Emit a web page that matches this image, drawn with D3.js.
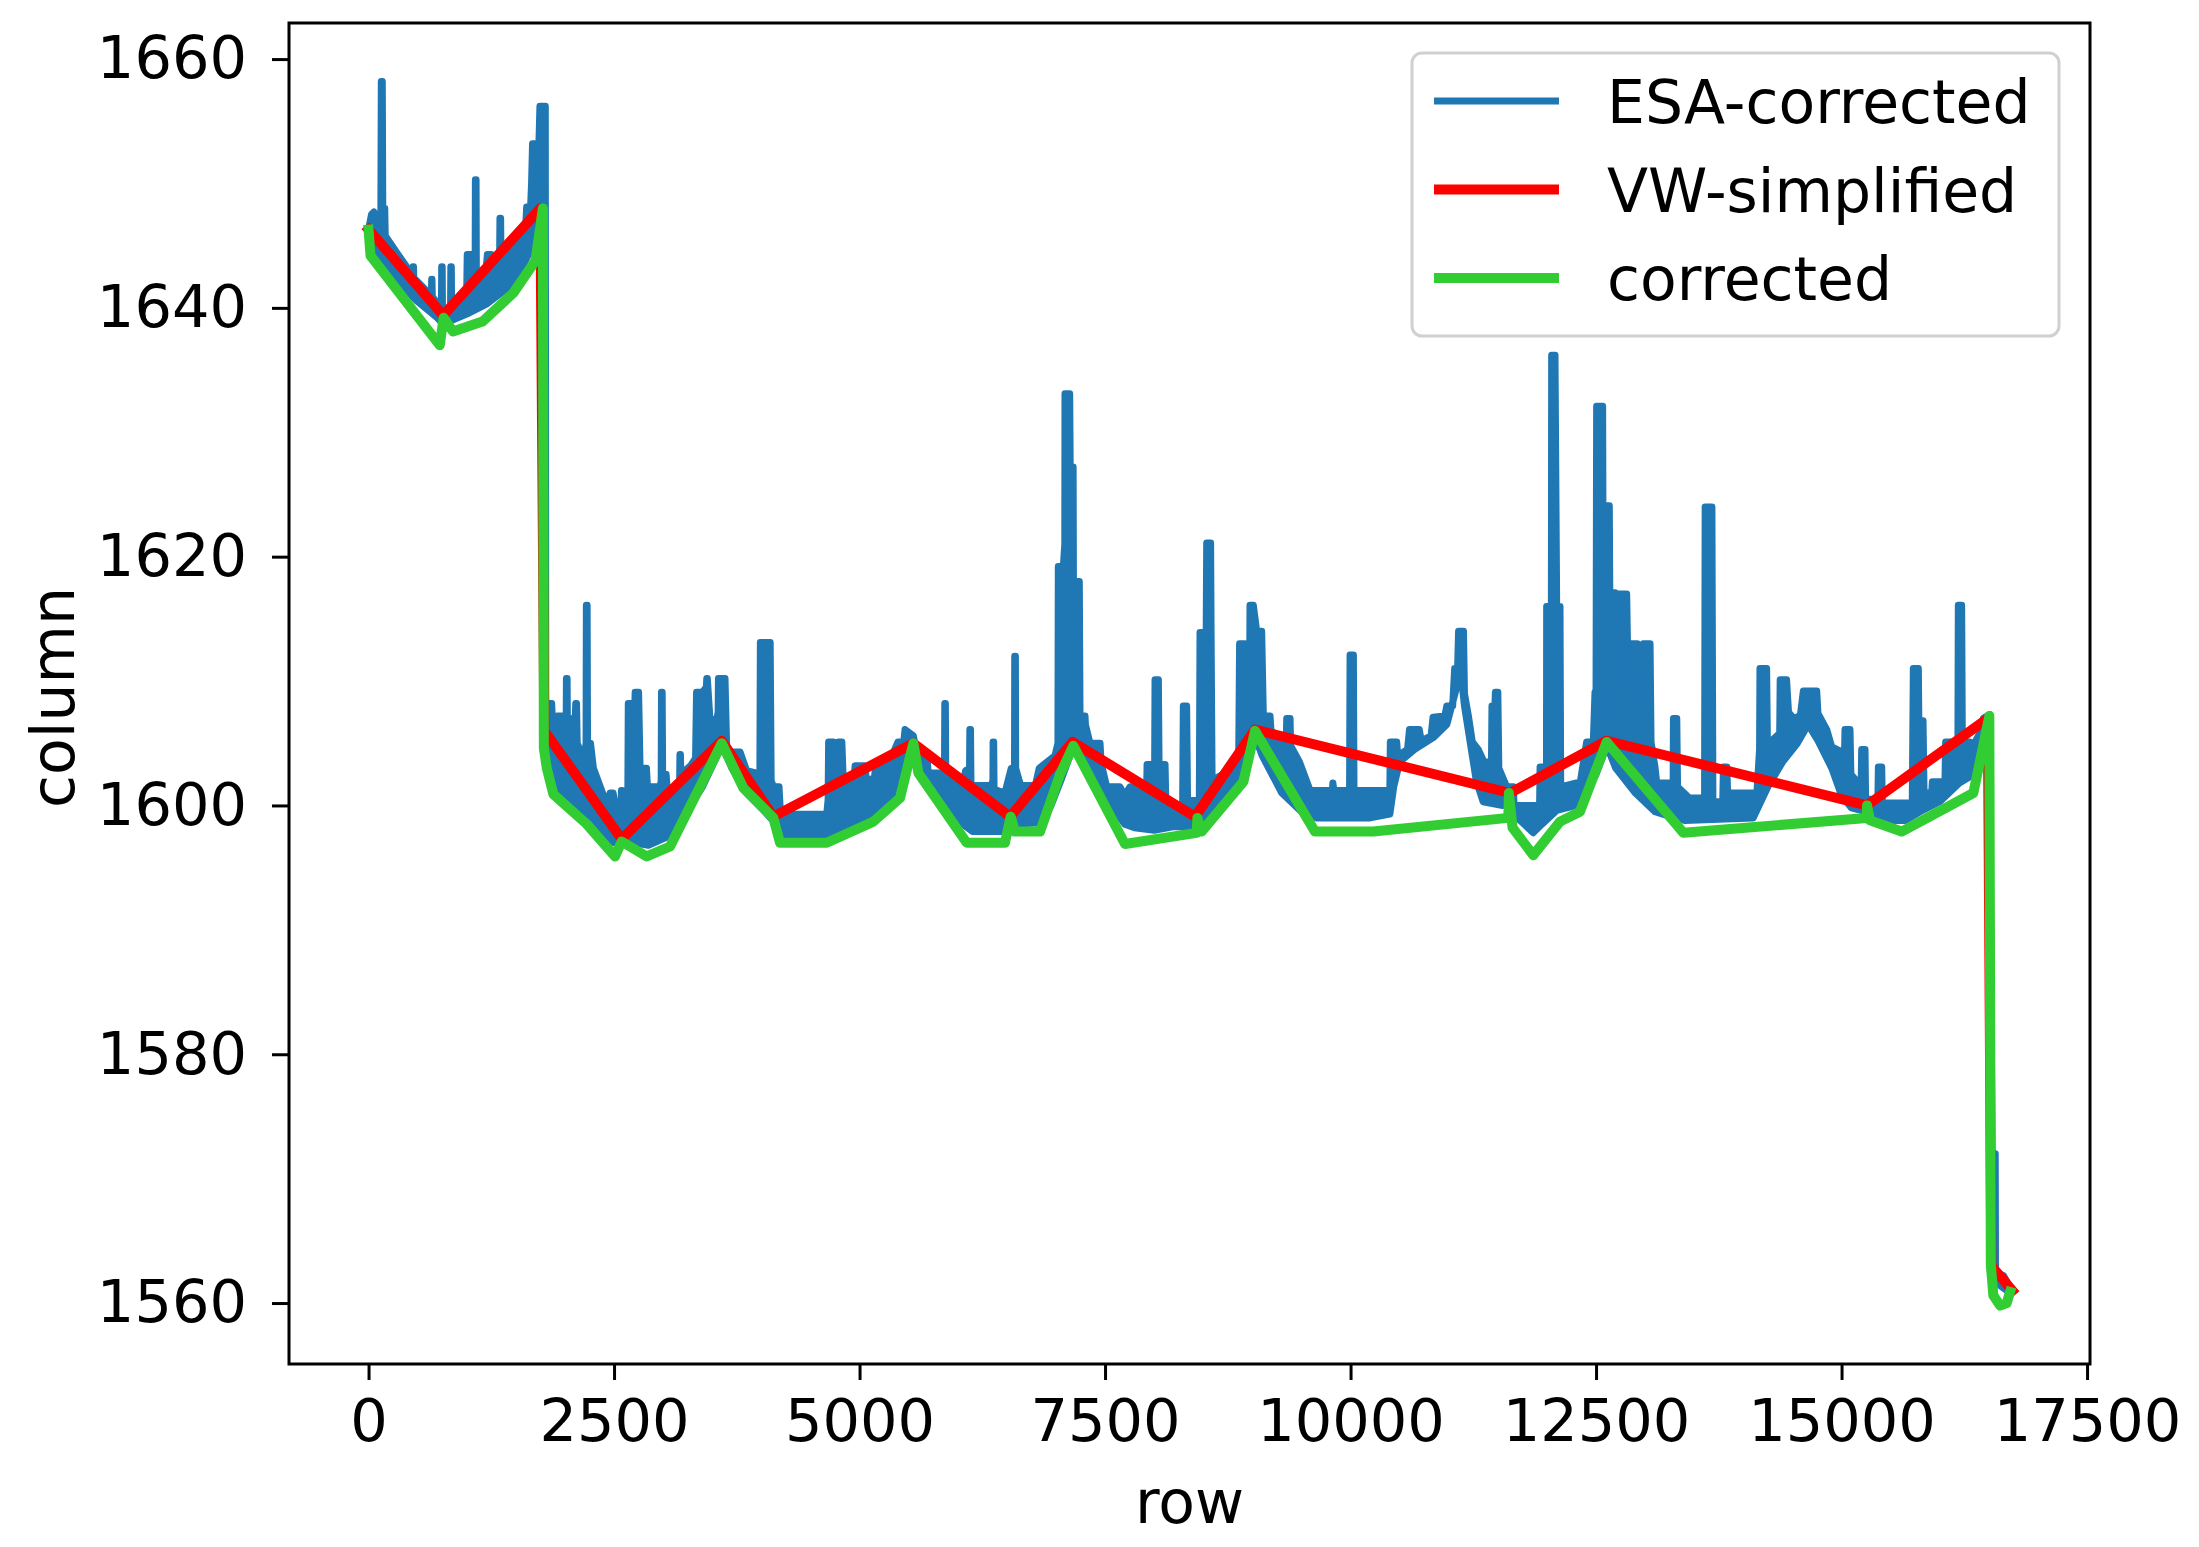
<!DOCTYPE html>
<html><head><meta charset="utf-8">
<script src="https://cdn.jsdelivr.net/npm/d3@7"></script>
<style>body{margin:0;background:#fff}</style>
</head><body>
<svg id="chart" width="2199" height="1547"></svg>
<script>
// ---------- data ----------
const xTicks = [0, 2500, 5000, 7500, 10000, 12500, 15000, 17500];
const yTicks = [1560, 1580, 1600, 1620, 1640, 1660];
const seriesNames = ["ESA-corrected", "VW-simplified", "corrected"];
const seriesColors = ["#1f77b4", "#ff0000", "#32cd32"];
const xLabel = "row";
const yLabel = "column";

// ESA-corrected: upper outline (with spikes) of the dense noisy trace, [row, column]
const esaUpper = [
[0,1646.3],[30,1647.5],[55,1647.7],[70,1646.5],
[125,1646.5],[130,1658.2],[140,1658.2],[145,1648.0],[165,1648.0],[170,1645.8],
[300,1644.3],
[450,1642.6],[453,1643.3],[458,1643.3],[461,1642.4],
[600,1641.3],
[640,1641.0],[643,1642.3],[646,1642.3],[649,1640.9],
[700,1640.4],
[742,1640.0],[745,1643.3],[750,1643.3],[753,1639.9],
[790,1639.8],
[835,1640.2],[838,1643.3],[843,1643.3],[846,1640.2],
[950,1641.0],
[1000,1641.5],[1005,1644.3],[1050,1644.3],[1060,1642.0],
[1085,1642.0],[1088,1650.3],[1095,1650.3],[1098,1642.5],
[1200,1643.3],[1210,1644.3],[1250,1644.3],[1260,1643.8],
[1335,1644.3],[1338,1647.2],[1345,1647.2],[1348,1644.6],
[1430,1644.8],[1435,1645.3],[1520,1645.3],
[1600,1646.5],[1610,1648.1],[1650,1648.1],[1660,1650.0],[1670,1653.2],[1735,1653.2],[1745,1656.2],[1800,1656.2],
[1805,1606.0],[1815,1608.2],[1865,1608.2],[1875,1606.0],[1915,1606.2],[1920,1607.2],[1970,1607.2],[1990,1606.0],
[2012,1606.0],[2015,1610.2],[2022,1610.2],[2025,1606.5],[2080,1607.0],[2100,1606.0],
[2110,1608.2],[2118,1608.2],[2125,1605.0],[2170,1604.1],[2200,1604.1],
[2215,1605.0],[2218,1616.1],[2226,1616.1],[2230,1605.0],[2260,1605.0],[2290,1603.0],[2430,1600.0],[2460,1601.0],[2490,1601.0],[2540,1599.0],
[2572,1599.0],[2575,1601.2],[2582,1601.2],[2590,1599.5],
[2640,1600.5],[2645,1608.2],[2712,1608.2],[2715,1609.1],[2750,1609.1],[2765,1603.0],[2830,1603.0],[2840,1601.5],[2970,1601.5],
[2980,1602.0],[2983,1609.1],[2990,1609.1],[2995,1602.5],[3030,1602.5],[3040,1601.5],[3130,1601.3],
[3168,1602.0],[3171,1604.1],[3176,1604.1],[3180,1602.5],[3280,1603.2],
[3330,1603.8],[3340,1609.1],[3400,1609.1],[3440,1609.5],[3444,1610.2],[3450,1610.2],[3477,1606.9],[3545,1606.9],
[3560,1607.5],[3563,1610.2],[3630,1610.2],[3648,1604.3],[3783,1604.3],[3850,1602.8],[3953,1602.6],
[3985,1602.6],[3990,1613.1],[4090,1613.1],[4100,1602.0],[4123,1601.5],[4180,1601.5],[4195,1599.3],[4666,1599.3],
[4680,1600.5],[4685,1605.1],[4733,1605.1],[4745,1604.0],[4780,1604.0],[4785,1605.1],[4820,1605.1],[4836,1601.6],[4938,1601.6],
[4955,1603.2],[5055,1603.2],[5070,1602.0],[5150,1602.2],[5170,1603.4],[5300,1603.4],[5390,1605.1],[5450,1605.1],[5463,1606.1],[5548,1605.6],
[5582,1604.2],[5685,1604.0],[5700,1602.6],[5850,1602.6],
[5865,1603.0],[5868,1608.2],[5874,1608.2],[5878,1602.5],[5950,1601.7],[6050,1601.7],[6080,1602.8],
[6120,1603.0],[6123,1606.1],[6130,1606.1],[6135,1601.6],[6340,1601.6],
[6358,1602.0],[6360,1605.1],[6366,1605.1],[6370,1601.3],[6480,1601.0],[6545,1603.0],
[6578,1603.0],[6580,1612.0],[6587,1612.0],[6590,1603.0],[6640,1601.6],[6790,1601.6],
[6830,1603.0],[6990,1604.0],
[7020,1605.0],[7024,1619.2],[7075,1619.2],[7090,1621.0],[7092,1633.1],[7140,1633.1],[7145,1627.2],[7175,1627.2],[7178,1618.0],[7238,1618.0],[7245,1607.2],[7296,1607.2],[7300,1606.5],[7347,1605.0],[7449,1605.0],[7460,1603.4],[7517,1601.5],[7652,1601.5],[7700,1600.8],[7754,1601.5],[7924,1601.5],
[7928,1603.3],[7975,1603.3],[8005,1603.3],[8009,1610.1],[8043,1610.1],[8050,1603.3],[8111,1603.3],[8120,1600.0],[8290,1600.0],
[8297,1608.0],[8331,1608.0],[8340,1600.4],[8460,1600.4],
[8467,1613.9],[8530,1613.9],[8535,1621.1],[8575,1621.1],[8580,1613.9],[8590,1602.0],[8700,1602.5],[8860,1603.0],
[8870,1613.0],[8925,1613.0],[8935,1606.0],[8970,1607.0],[8976,1616.1],[9010,1616.1],[9044,1614.0],[9095,1614.0],[9112,1607.2],[9180,1607.2],[9190,1606.0],[9300,1605.3],
[9345,1605.0],[9350,1607.0],[9384,1607.0],[9390,1604.8],[9480,1603.5],[9588,1601.2],
[9815,1601.2],[9820,1601.8],[9830,1601.2],[9990,1601.2],[9995,1612.1],[10029,1612.1],[10035,1601.2],[10400,1601.2],
[10405,1605.1],[10470,1605.1],[10480,1604.0],[10580,1604.5],[10600,1606.1],[10700,1606.1],[10720,1605.2],[10820,1605.6],[10840,1607.1],[10960,1607.2],[10980,1608.0],[11040,1608.0],[11060,1611.0],[11090,1611.0],[11100,1614.0],[11150,1614.0],[11160,1609.0],[11200,1607.2],[11240,1605.1],[11300,1604.5],[11360,1603.5],[11435,1603.5],[11440,1608.0],[11470,1608.0],[11475,1609.1],[11500,1609.1],[11510,1603.0],[11590,1601.5],[11658,1601.5],[11665,1600.0],[11925,1600.0],
[11930,1603.1],[11963,1603.1],[11970,1601.0],[11995,1601.0],[11997,1616.0],[12045,1616.0],[12048,1636.2],[12082,1636.2],[12099,1616.0],[12133,1616.0],[12140,1601.5],[12340,1601.9],
[12404,1605.1],[12472,1605.1],[12489,1609.1],[12500,1609.1],[12506,1632.1],[12567,1632.1],[12570,1624.1],[12635,1624.1],[12640,1617.1],[12693,1617.1],[12700,1607.2],[12708,1607.2],[12710,1617.0],[12812,1617.0],[12820,1613.0],[12920,1613.0],[12925,1608.5],[12975,1608.5],[12982,1613.0],[13050,1613.0],[13060,1605.1],[13100,1603.1],[13118,1601.8],[13220,1601.8],
[13285,1601.8],[13288,1607.0],[13322,1607.0],[13330,1601.5],[13450,1600.6],[13605,1600.6],
[13611,1624.0],[13680,1624.0],[13690,1600.3],[13790,1600.3],[13797,1603.1],[13832,1603.1],[13840,1601.0],[14138,1601.0],
[14165,1604.5],[14169,1611.0],[14237,1611.0],[14245,1605.0],[14300,1605.3],[14370,1605.8],[14375,1610.1],[14440,1610.1],[14460,1607.5],[14510,1607.0],[14580,1607.2],[14611,1609.2],[14747,1609.2],[14760,1607.4],[14849,1606.1],[14900,1604.7],[15030,1604.2],[15035,1606.1],[15086,1606.1],[15095,1602.5],[15150,1602.0],[15200,1601.9],[15205,1604.5],[15239,1604.5],[15245,1600.5],[15370,1600.5],[15375,1603.1],[15409,1603.1],[15415,1600.2],[15720,1600.2],
[15731,1611.0],[15782,1611.0],[15787,1606.8],[15830,1606.8],[15840,1601.0],[15918,1601.0],[15925,1601.9],[16053,1601.9],[16060,1605.1],[16185,1605.1],[16189,1616.1],[16223,1616.1],[16230,1605.1],[16308,1605.1],[16320,1604.5],[16420,1606.0],[16444,1607.0],[16510,1607.3],
[16522,1563.2],[16550,1563.0],[16553,1572.0],[16565,1572.0],[16568,1562.5],[16650,1562.2],[16700,1561.5],[16720,1561.0]
];

// ESA-corrected: lower outline of the dense noisy trace, [row, column]
const esaLower = [
[0,1645.8],[60,1644.3],[300,1642.0],[500,1640.5],[700,1639.2],[760,1638.7],[850,1639.0],[1000,1639.5],[1200,1640.3],[1400,1641.5],[1550,1643.0],[1700,1645.5],[1790,1647.0],
[1795,1603.8],[1880,1601.5],[2000,1600.8],[2200,1599.2],[2400,1597.8],[2500,1597.0],[2580,1597.4],[2700,1597.0],[2850,1596.8],[3050,1597.5],[3200,1599.0],[3400,1601.5],[3550,1604.0],[3600,1604.8],[3700,1603.0],[3850,1601.0],[4000,1599.8],[4150,1598.5],[4250,1597.6],[4650,1597.6],[4900,1598.3],[5100,1599.2],[5350,1600.8],[5480,1602.8],[5550,1604.6],[5620,1603.2],[5800,1600.5],[6000,1598.8],[6150,1597.9],[6480,1597.9],[6540,1599.3],[6600,1598.5],[6850,1598.6],[6950,1600.0],[7050,1602.0],[7170,1604.6],[7300,1603.0],[7500,1600.6],[7700,1598.5],[7800,1598.2],[8000,1598.0],[8200,1598.3],[8430,1598.2],[8600,1599.0],[8800,1601.3],[8950,1603.8],[9030,1605.5],[9100,1604.0],[9300,1601.0],[9500,1599.5],[9650,1599.0],[10200,1599.0],[10400,1599.3],
[10440,1601.5],[10500,1603.5],[10650,1604.5],[10850,1605.5],[10980,1606.5],[11080,1609.5],[11120,1611.0],[11160,1608.0],[11220,1605.0],[11280,1602.0],[11350,1600.3],[11550,1600.0],[11620,1600.3],[11700,1599.0],[11860,1597.8],[11950,1598.5],[12100,1599.6],[12300,1600.0],[12500,1602.5],[12610,1604.8],[12700,1603.0],[12900,1601.0],[13100,1599.5],[13300,1599.0],[13400,1598.8],[14100,1599.0],
[14250,1601.5],[14400,1603.5],[14550,1605.0],[14660,1606.5],[14760,1605.2],[14900,1603.0],[15000,1600.8],[15100,1599.8],[15250,1599.5],[15400,1598.8],[15650,1598.8],[15800,1599.5],[16000,1600.3],[16200,1601.8],[16350,1602.5],[16450,1605.0],[16505,1606.5],
[16515,1562.5],[16550,1561.8],[16650,1561.2],[16720,1560.8]
];

// VW-simplified polyline, [row, column]
const vwSimplified = [
[0,1646.3],[760,1639.4],[1750,1648.0],[1790,1606.0],[2578,1597.3],[3597,1605.2],[4122,1599.1],[5548,1605.0],[6533,1599.1],[7170,1605.1],[8417,1599.1],[9027,1606.1],[11624,1601.0],[12608,1605.2],[15256,1600.0],[16490,1607.0],[16525,1563.0],[16740,1561.0]
];

// corrected polyline, [row, column]
const corrected = [
[0,1646.3],[20,1644.2],[725,1637.0],[765,1639.2],[860,1638.1],[1160,1638.9],[1475,1641.2],[1700,1643.8],[1775,1648.0],
[1785,1604.6],[1815,1603.0],[1882,1600.9],[2222,1598.5],[2510,1595.9],[2578,1597.1],[2833,1595.9],[3070,1596.7],[3597,1605.0],[3817,1601.4],[4122,1599.0],[4190,1597.0],[4666,1597.0],[5141,1598.7],[5412,1600.6],[5548,1605.0],[5600,1602.6],[6091,1597.0],[6481,1597.0],[6539,1599.1],[6583,1597.9],[6838,1597.9],[7042,1602.5],[7177,1604.8],[7703,1596.9],[8433,1597.8],[8440,1599.0],[8484,1597.9],[8908,1601.9],[9027,1606.0],[9638,1597.9],[10232,1597.9],[11607,1599.0],[11612,1601.0],[11650,1598.2],[11861,1596.0],[12133,1598.7],[12336,1599.5],[12608,1605.1],[13389,1597.8],[15256,1599.0],[15260,1600.0],[15290,1598.8],[15612,1597.9],[16342,1601.0],[16505,1607.2],[16520,1563.1],[16546,1560.6],[16614,1559.8],[16682,1560.0],[16716,1560.9]
];

// ---------- drawing ----------
const FONT = "'DejaVu Sans', sans-serif";
const TICK_FS = "59px";
const LABEL_FS = "60px";
const plot = {left: 289, right: 2090, top: 23, bottom: 1364};
const svg = d3.select("#chart");
svg.append("rect").attr("width", 2199).attr("height", 1547).attr("fill", "#fff");

const x = d3.scaleLinear().domain([-810, 17530]).range([plot.left, plot.right]);
const y = d3.scaleLinear().domain([1555.1, 1662.9]).range([plot.bottom, plot.top]);

svg.append("clipPath").attr("id", "clip").append("rect")
  .attr("x", plot.left).attr("y", plot.top)
  .attr("width", plot.right - plot.left).attr("height", plot.bottom - plot.top);

const g = svg.append("g").attr("clip-path", "url(#clip)");
const line = d3.line().x(d => x(d[0])).y(d => y(d[1]));

// ESA-corrected dense trace
const esaOutline = esaUpper.concat(esaLower.slice().reverse());
g.append("path")
  .attr("d", d3.line().x(d => x(d[0])).y(d => y(d[1])).curve(d3.curveLinearClosed)(esaOutline))
  .attr("fill", seriesColors[0]).attr("stroke", seriesColors[0])
  .attr("stroke-width", 7).attr("stroke-linejoin", "round");

g.append("path").attr("d", line(vwSimplified))
  .attr("fill", "none").attr("stroke", seriesColors[1]).attr("stroke-width", 10)
  .attr("stroke-linejoin", "round").attr("stroke-linecap", "square");

g.append("path").attr("d", line(corrected))
  .attr("fill", "none").attr("stroke", seriesColors[2]).attr("stroke-width", 10)
  .attr("stroke-linejoin", "round").attr("stroke-linecap", "square");

// axes
const xAxis = svg.append("g").attr("transform", `translate(0,${plot.bottom})`)
  .call(d3.axisBottom(x).tickValues(xTicks).tickFormat(d3.format("d")).tickSize(16).tickPadding(19));
const yAxis = svg.append("g").attr("transform", `translate(${plot.left},0)`)
  .call(d3.axisLeft(y).tickValues(yTicks).tickFormat(d3.format("d")).tickSize(17).tickPadding(25));
[xAxis, yAxis].forEach(a => {
  a.select(".domain").remove();
  a.selectAll(".tick line").attr("stroke", "#000").attr("stroke-width", 3);
  a.selectAll(".tick text").attr("fill", "#000").style("font-family", FONT).style("font-size", TICK_FS);
});

// frame
svg.append("rect").attr("x", plot.left).attr("y", plot.top)
  .attr("width", plot.right - plot.left).attr("height", plot.bottom - plot.top)
  .attr("fill", "none").attr("stroke", "#000").attr("stroke-width", 3);

// axis labels
svg.append("text").text(xLabel).attr("x", (plot.left + plot.right) / 2).attr("y", 1523)
  .attr("text-anchor", "middle").style("font-family", FONT).style("font-size", LABEL_FS);
svg.append("text").text(yLabel)
  .attr("transform", `translate(74,${(plot.top + plot.bottom) / 2 + 4}) rotate(-90)`)
  .attr("text-anchor", "middle").style("font-family", FONT).style("font-size", LABEL_FS);

// legend
const lg = svg.append("g");
lg.append("rect").attr("x", 1412).attr("y", 53).attr("width", 647).attr("height", 283)
  .attr("rx", 10).attr("fill", "#fff").attr("fill-opacity", 0.8)
  .attr("stroke", "#d0d0d0").attr("stroke-width", 3);
const legendWidths = [7, 10, 10];
seriesNames.forEach((name, i) => {
  const ly = 101 + i * 88.5;
  lg.append("line").attr("x1", 1434).attr("x2", 1559).attr("y1", ly).attr("y2", ly)
    .attr("stroke", seriesColors[i]).attr("stroke-width", legendWidths[i]);
  lg.append("text").text(name).attr("x", 1607).attr("y", ly + 22)
    .style("font-family", FONT).style("font-size", LABEL_FS).attr("fill", "#000");
});
</script>
</body></html>
